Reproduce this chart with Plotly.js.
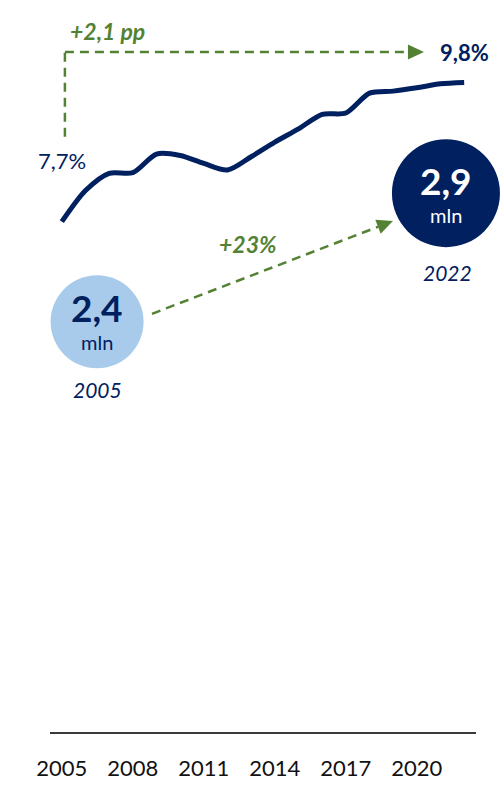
<!DOCTYPE html>
<html>
<head>
<meta charset="utf-8">
<script src="https://cdn.plot.ly/plotly-3.0.1.min.js"></script>
<style>
  html, body { margin: 0; padding: 0; background: #ffffff; }
  #chart { width: 501px; height: 786px; }
</style>
</head>
<body>
<div id="chart"></div>
<script>
// Share series, 2005-2022 (%)
const years = [2005, 2006, 2007, 2008, 2009, 2010, 2011, 2012, 2013,
               2014, 2015, 2016, 2017, 2018, 2019, 2020, 2021, 2022];
const share = [7.7, 8.17, 8.43, 8.44, 8.72, 8.70, 8.58, 8.48, 8.68,
               8.90, 9.10, 9.32, 9.34, 9.64, 9.67, 9.72, 9.78, 9.8];

// Axis ticks
const tickYears = [2005, 2008, 2011, 2014, 2017, 2020];
const tickLabels = ['2005', '2008', '2011', '2014', '2017', '2020'];

// Headcount bubbles (millions)
const bubbleYears = ['2005', '2022'];
const bubbleValues = [2.4, 2.9];
const growthLabel = '+23%';

const NAVY = '#002060';
const LIGHT = '#A9CBEB';
const GREEN = '#548235';
const FONT = 'Lato, Open Sans, sans-serif';

// Plot geometry
const W = 501, H = 786;
const M = { l: 50, r: 25, t: 3, b: 54 };
const XR = [2004.5, 2022.5];
const YR = [0, 11];
const pxX = (W - M.l - M.r) / (XR[1] - XR[0]);
const pxY = (H - M.t - M.b) / (YR[1] - YR[0]);
const paperX = x => (x - XR[0]) / (XR[1] - XR[0]);
const paperY = y => (y - YR[0]) / (YR[1] - YR[0]);

const fmt = v => v.toFixed(1).replace('.', ',');

const first = share[0];
const last = share[share.length - 1];
const ppLabel = '+' + fmt(last - first) + ' pp';

const trace = {
  x: years,
  y: share,
  type: 'scatter',
  mode: 'lines',
  line: { color: NAVY, width: 5, shape: 'spline', smoothing: 0.8 },
  hoverinfo: 'skip'
};

// Arrowhead drawn in pixels around its tip, pointing along (dx, dy)
function arrowHead(xTip, yTip, dx, dy) {
  const len = Math.hypot(dx, dy);
  const ux = dx / len, uy = dy / len;
  const L = 16, hw = 7.5;
  const bx = -L * ux, by = -L * uy;
  const p1 = [bx - hw * uy, by + hw * ux];
  const p2 = [bx + hw * uy, by - hw * ux];
  return {
    type: 'path', xref: 'x', yref: 'y',
    xsizemode: 'pixel', ysizemode: 'pixel',
    xanchor: xTip, yanchor: yTip,
    path: `M0,0 L${p1[0].toFixed(2)},${p1[1].toFixed(2)} L${p2[0].toFixed(2)},${p2[1].toFixed(2)} Z`,
    fillcolor: GREEN, line: { width: 0 }
  };
}

const dashLine = { color: GREEN, width: 2.5, dash: '9px,6px' };

// Bracket from the first value up and across to the last value
const brX = 2005.13, brY0 = 8.98, brY1 = 10.26, brTip = 2020.3;

// Growth arrow between bubbles
const gTail = [2008.81, 6.31], gTip = [2018.99, 7.71];
const gdx = (gTip[0] - gTail[0]) * pxX, gdy = (gTip[1] - gTail[1]) * pxY;
const gLen = Math.hypot(gdx, gdy);
const gBase = [gTip[0] - 16 * gdx / gLen / pxX, gTip[1] - 16 * gdy / gLen / pxY];

// Bubble centres and radii (px)
const bubbles = [
  { x: 2006.49, y: 6.19, r: 46.5, fill: LIGHT, text: NAVY, numShift: 14.5, unitShift: -20, yearShift: -68, xs: 0 },
  { x: 2021.23, y: 8.13, r: 54, fill: NAVY, text: '#ffffff', numShift: 13, unitShift: -21.5, yearShift: -79, xs: 2 }
];

const shapes = [
  { type: 'line', xref: 'x', yref: 'y', x0: brX, y0: brY0, x1: brX, y1: brY1, line: dashLine },
  { type: 'line', xref: 'x', yref: 'y', x0: brX, y0: brY1, x1: brTip - 16 / pxX, y1: brY1, line: dashLine },
  arrowHead(brTip, brY1, 1, 0),
  { type: 'line', xref: 'x', yref: 'y', x0: gTail[0], y0: gTail[1], x1: gBase[0], y1: gBase[1], line: dashLine },
  arrowHead(gTip[0], gTip[1], gdx, gdy)
];

const annotations = [
  { x: years[0], y: 8.62, text: fmt(first) + '%', showarrow: false,
    font: { family: FONT, size: 22, color: NAVY }, xanchor: 'center', yanchor: 'middle' },
  { x: years[years.length - 1], y: 10.26, text: '<b>' + fmt(last) + '%</b>', showarrow: false,
    font: { family: FONT, size: 22, color: NAVY }, xanchor: 'center', yanchor: 'middle' },
  { x: 2006.91, y: 10.58, text: '<b><i>' + ppLabel + '</i></b>', showarrow: false,
    font: { family: FONT, size: 23, color: GREEN }, xanchor: 'center', yanchor: 'middle' },
  { x: 2012.87, y: 7.36, text: '<b><i>' + growthLabel + '</i></b>', showarrow: false,
    font: { family: FONT, size: 23, color: GREEN }, xanchor: 'center', yanchor: 'middle' }
];

bubbles.forEach((b, i) => {
  // paper-referenced so the circle is not clipped at the plot edge
  shapes.push({
    type: 'circle', xref: 'paper', yref: 'paper',
    xsizemode: 'pixel', ysizemode: 'pixel',
    xanchor: paperX(b.x), yanchor: paperY(b.y),
    x0: -b.r, x1: b.r, y0: -b.r, y1: b.r,
    fillcolor: b.fill, line: { width: 0 }, layer: 'above'
  });
  annotations.push(
    { x: b.x, y: b.y, yshift: b.numShift, text: '<b>' + fmt(bubbleValues[i]) + '</b>', showarrow: false,
      font: { family: FONT, size: 37, color: b.text }, xanchor: 'center', yanchor: 'middle' },
    { x: b.x, y: b.y, yshift: b.unitShift, text: 'mln', showarrow: false,
      font: { family: FONT, size: 20, color: b.text }, xanchor: 'center', yanchor: 'middle' },
    { x: b.x, y: b.y, yshift: b.yearShift, xshift: b.xs, text: '<i>' + bubbleYears[i] + '</i>', showarrow: false,
      font: { family: FONT, size: 21, color: NAVY }, xanchor: 'center', yanchor: 'middle' }
  );
});

const layout = {
  width: W, height: H,
  margin: M,
  paper_bgcolor: '#ffffff',
  plot_bgcolor: '#ffffff',
  showlegend: false,
  xaxis: {
    range: XR, fixedrange: true,
    showgrid: false, zeroline: false,
    showline: true, linecolor: '#3a3a3a', linewidth: 1.5,
    ticks: '',
    tickmode: 'array', tickvals: tickYears, ticktext: tickLabels,
    tickfont: { family: FONT, size: 22, color: '#111111' },
    ticklabelstandoff: 16
  },
  yaxis: {
    range: YR, fixedrange: true,
    visible: false, showgrid: false, zeroline: false
  },
  shapes: shapes,
  annotations: annotations
};

Plotly.newPlot('chart', [trace], layout, { staticPlot: true, displayModeBar: false });
</script>
</body>
</html>
